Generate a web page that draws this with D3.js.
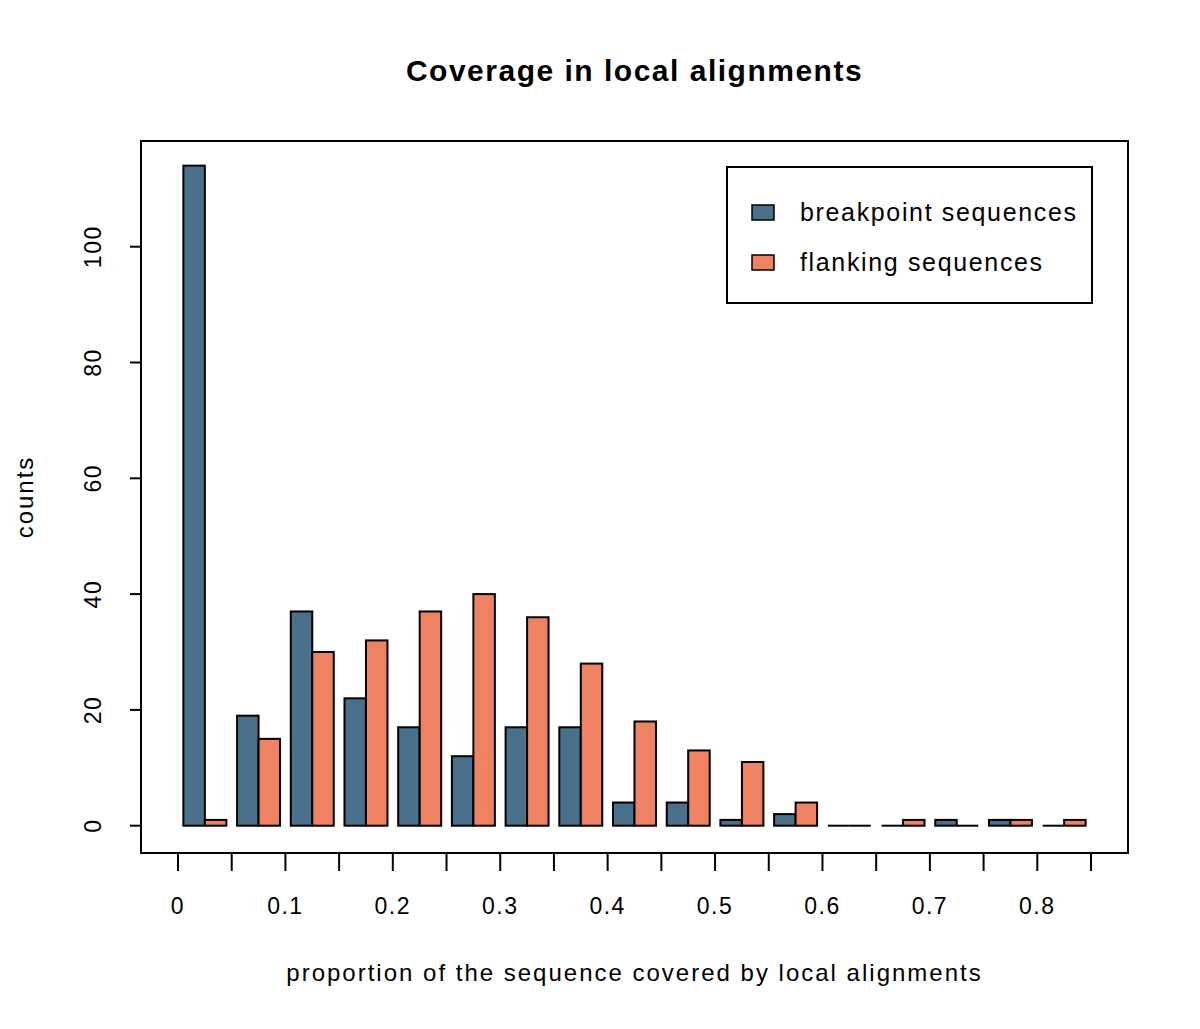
<!DOCTYPE html>
<html>
<head>
<meta charset="utf-8">
<script src="https://cdn.jsdelivr.net/npm/d3@7"></script>
<style>
  body { margin: 0; background: #fff; }
  text { font-family: "Liberation Sans", Arial, sans-serif; fill: #000; }
</style>
</head>
<body>
<div id="chart"></div>
<script>
// Histogram bins (lower edges) and counts per series
const binStarts = [0, 0.05, 0.1, 0.15, 0.2, 0.25, 0.3, 0.35, 0.4, 0.45, 0.5, 0.55, 0.6, 0.65, 0.7, 0.75, 0.8];
const breakpoint = [114, 19, 37, 22, 17, 12, 17, 17, 4, 4, 1, 2, 0, 0, 1, 1, 0];
const flanking   = [1, 15, 30, 32, 37, 40, 36, 28, 18, 13, 11, 4, 0, 1, 0, 1, 1];
const seriesNames = ["breakpoint sequences", "flanking sequences"];
const seriesColors = ["#4A708B", "#EE8262"];
const xTicks = d3.range(0, 18).map(i => +(i * 0.05).toFixed(2));
const xTickLabels = ["0", "0.1", "0.2", "0.3", "0.4", "0.5", "0.6", "0.7", "0.8"];
const yTicks = [0, 20, 40, 60, 80, 100];

const width = 1200, height = 1029;
const box = { left: 141, right: 1128, top: 141, bottom: 853 };
const binW = 0.05;

const svg = d3.select("#chart").append("svg")
    .attr("width", width)
    .attr("height", height);

const x = d3.scaleLinear().domain([0, 0.85]).range([178, 1091]);
const y = d3.scaleLinear().domain([0, 100]).range([825.7, 246.7]);

// title
svg.append("text")
    .attr("x", (box.left + box.right) / 2)
    .attr("y", 81)
    .attr("text-anchor", "middle")
    .style("font-size", "30px")
    .style("font-weight", "bold")
    .style("letter-spacing", "1.5px")
    .text("Coverage in local alignments");

// bars: each group fills the central 80% of its bin
const groups = binStarts.map((b, i) => ({ b, vals: [breakpoint[i], flanking[i]] }));
const barW = binW * 0.4;

const g = svg.append("g");
groups.forEach(d => {
    d.vals.forEach((v, j) => {
        const x0 = x(d.b + binW * 0.1 + j * barW);
        const x1 = x(d.b + binW * 0.1 + (j + 1) * barW);
        if (v === 0) {
            // zero count: R still draws the flat outline
            g.append("line")
                .attr("x1", x0).attr("x2", x1)
                .attr("y1", y(0)).attr("y2", y(0))
                .attr("stroke", "#000")
                .attr("stroke-width", 2);
            return;
        }
        g.append("rect")
            .attr("x", x0)
            .attr("y", y(v))
            .attr("width", x1 - x0)
            .attr("height", y(0) - y(v))
            .attr("fill", seriesColors[j])
            .attr("stroke", "#000")
            .attr("stroke-width", 2);
    });
});

// plot box
svg.append("rect")
    .attr("x", box.left)
    .attr("y", box.top)
    .attr("width", box.right - box.left)
    .attr("height", box.bottom - box.top)
    .attr("fill", "none")
    .attr("stroke", "#000")
    .attr("stroke-width", 2);

// x axis
const xAxis = svg.append("g").attr("transform", `translate(0,${box.bottom})`);
xAxis.append("line")
    .attr("x1", x(0)).attr("x2", x(0.85))
    .attr("stroke", "#000").attr("stroke-width", 2);
xAxis.selectAll("line.tick")
    .data(xTicks)
    .join("line")
    .attr("class", "tick")
    .attr("x1", d => x(d)).attr("x2", d => x(d))
    .attr("y1", 0).attr("y2", 18)
    .attr("stroke", "#000").attr("stroke-width", 2);
xAxis.selectAll("text")
    .data(xTickLabels)
    .join("text")
    .attr("x", d => x(+d))
    .attr("y", 61)
    .attr("text-anchor", "middle")
    .style("font-size", "23px")
    .style("letter-spacing", "1.5px")
    .text(d => d);

// y axis
const yAxis = svg.append("g").attr("transform", `translate(${box.left},0)`);
yAxis.append("line")
    .attr("y1", y(0)).attr("y2", y(100))
    .attr("stroke", "#000").attr("stroke-width", 2);
yAxis.selectAll("line.tick")
    .data(yTicks)
    .join("line")
    .attr("class", "tick")
    .attr("x1", 0).attr("x2", -11)
    .attr("y1", d => y(d)).attr("y2", d => y(d))
    .attr("stroke", "#000").attr("stroke-width", 2);
yAxis.selectAll("text")
    .data(yTicks)
    .join("text")
    .attr("transform", d => `translate(-40,${y(d)}) rotate(-90)`)
    .attr("text-anchor", "middle")
    .style("font-size", "23px")
    .style("letter-spacing", "1.5px")
    .text(d => d);

// axis titles
svg.append("text")
    .attr("x", (box.left + box.right) / 2)
    .attr("y", 981)
    .attr("text-anchor", "middle")
    .style("font-size", "24px")
    .style("letter-spacing", "2px")
    .text("proportion of the sequence covered by local alignments");

svg.append("text")
    .attr("transform", `translate(33,${(box.top + box.bottom) / 2}) rotate(-90)`)
    .attr("text-anchor", "middle")
    .style("font-size", "24px")
    .style("letter-spacing", "2px")
    .text("counts");

// legend
const legend = svg.append("g");
legend.append("rect")
    .attr("x", 727).attr("y", 167)
    .attr("width", 365).attr("height", 136)
    .attr("fill", "#fff")
    .attr("stroke", "#000")
    .attr("stroke-width", 2);
seriesNames.forEach((name, i) => {
    const yy = 212 + i * 50;
    legend.append("rect")
        .attr("x", 752).attr("y", yy - 7)
        .attr("width", 22).attr("height", 15)
        .attr("fill", seriesColors[i])
        .attr("stroke", "#000")
        .attr("stroke-width", 1.5);
    legend.append("text")
        .attr("x", 800).attr("y", yy + 9)
        .style("font-size", "25px")
        .style("letter-spacing", "1.65px")
        .text(name);
});
</script>
</body>
</html>
